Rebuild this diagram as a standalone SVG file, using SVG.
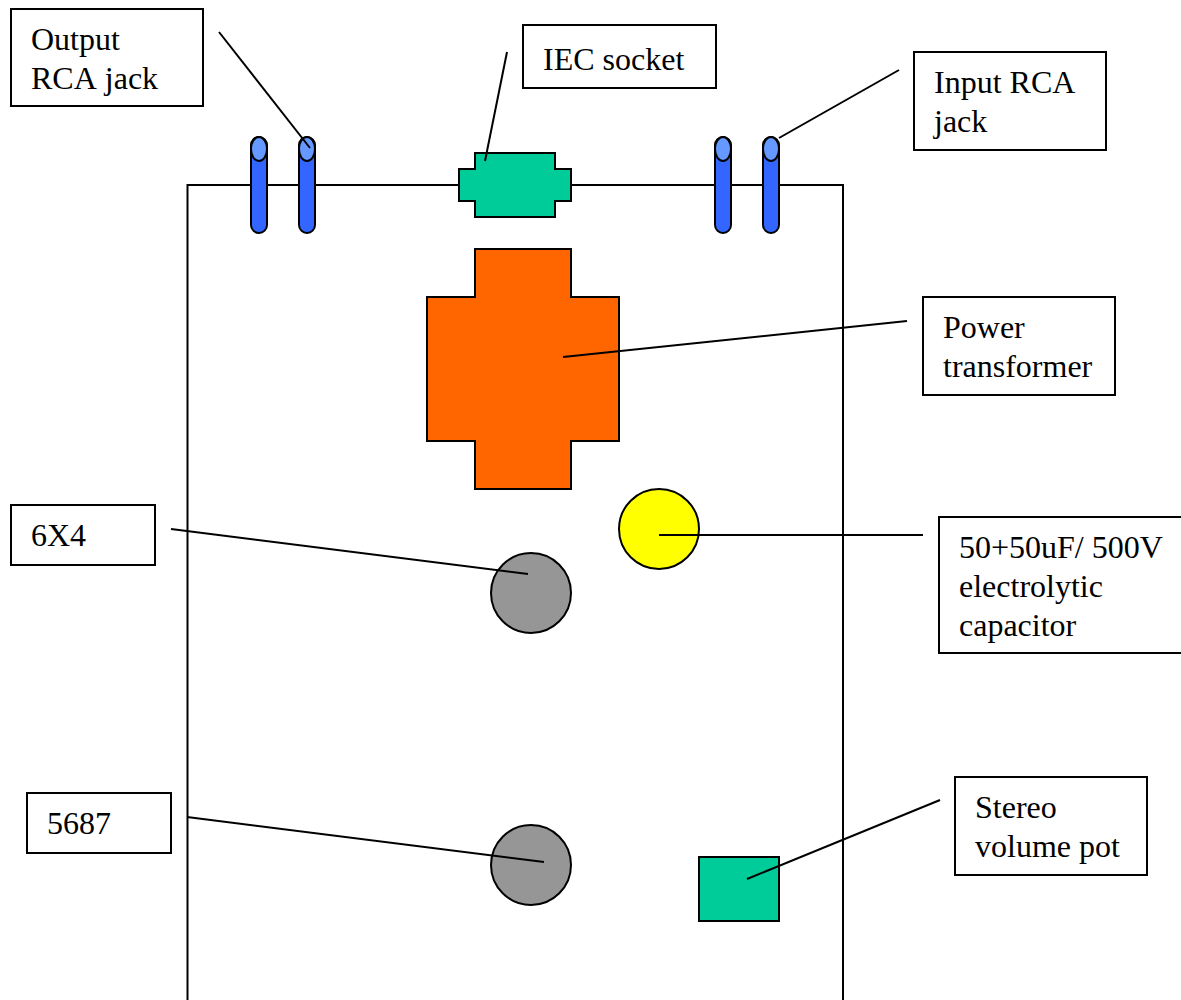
<svg xmlns="http://www.w3.org/2000/svg" width="1181" height="1000" viewBox="0 0 1181 1000">
<style>
.s{stroke:#000;stroke-width:2}
.b{fill:#fff}
.c{fill:none}
.j{fill:#3366ff}
.t{fill:#6699ff}
text{font-family:"Liberation Serif",serif;font-size:32px;fill:#000;font-kerning:none}
</style>
<rect width="1181" height="1000" fill="#fff"/>
<g id="chassis"><path class="s c" d="M187.500 1000V185H843V1000"/></g>
<g id="rca-out-1"><rect class="s j" x="251" y="137" width="16" height="96" rx="8"/><ellipse class="s t" cx="259" cy="149" rx="8" ry="12"/></g>
<g id="rca-out-2"><rect class="s j" x="299" y="137" width="16" height="96" rx="8"/><ellipse class="s t" cx="307" cy="149" rx="8" ry="12"/></g>
<g id="rca-in-1"><rect class="s j" x="715" y="137" width="16" height="96" rx="8"/><ellipse class="s t" cx="723" cy="149" rx="8" ry="12"/></g>
<g id="rca-in-2"><rect class="s j" x="763" y="137" width="16" height="96" rx="8"/><ellipse class="s t" cx="771" cy="149" rx="8" ry="12"/></g>
<g id="iec"><path class="s" fill="#00cc99" d="M475 153H555V169H571V201H555V217H475V201H459V169H475Z"/></g>
<g id="transformer"><path class="s" fill="#ff6600" d="M475 249H571V297H619V441H571V489H475V441H427V297H475Z"/></g>
<g id="cap"><circle class="s" fill="#ffff00" cx="659" cy="529" r="40"/></g>
<g id="tube-6x4"><circle class="s" fill="#969696" cx="531" cy="593" r="40"/></g>
<g id="tube-5687"><circle class="s" fill="#969696" cx="531" cy="865" r="40"/></g>
<g id="pot"><rect class="s" fill="#00cc99" x="699" y="857" width="80" height="64"/></g>
<g id="label-output"><rect class="s b" x="11" y="9" width="192" height="97"/><text x="31" y="50">Output</text><text x="31" y="89">RCA jack</text></g>
<g id="label-iec"><rect class="s b" x="523" y="25" width="193" height="63"/><text x="543" y="70">IEC socket</text></g>
<g id="label-input"><rect class="s b" x="914" y="52" width="192" height="98"/><text x="934" y="93">Input RCA</text><text x="934" y="132">jack</text></g>
<g id="label-power"><rect class="s b" x="923" y="297" width="192" height="98"/><text x="943" y="338">Power</text><text x="943" y="377">transformer</text></g>
<g id="label-6x4"><rect class="s b" x="11" y="505" width="144" height="60"/><text x="31" y="546">6X4</text></g>
<g id="label-cap"><rect class="s b" x="939" y="517" width="250" height="136"/><text x="959" y="558">50+50uF/ 500V</text><text x="959" y="597">electrolytic</text><text x="959" y="636">capacitor</text></g>
<g id="label-5687"><rect class="s b" x="27" y="793" width="144" height="60"/><text x="47" y="834">5687</text></g>
<g id="label-pot"><rect class="s b" x="955" y="777" width="192" height="98"/><text x="975" y="818">Stereo</text><text x="975" y="857">volume pot</text></g>
<g id="connectors" class="s c">
<path d="M219 32L310 148"/>
<path d="M507 52L485 161"/>
<path d="M899 70L779 138"/>
<path d="M907 321L563 357"/>
<path d="M171 529L528 574"/>
<path d="M923 535H659"/>
<path d="M187 817L544 862"/>
<path d="M940 800L747 879"/>
</g>
</svg>
